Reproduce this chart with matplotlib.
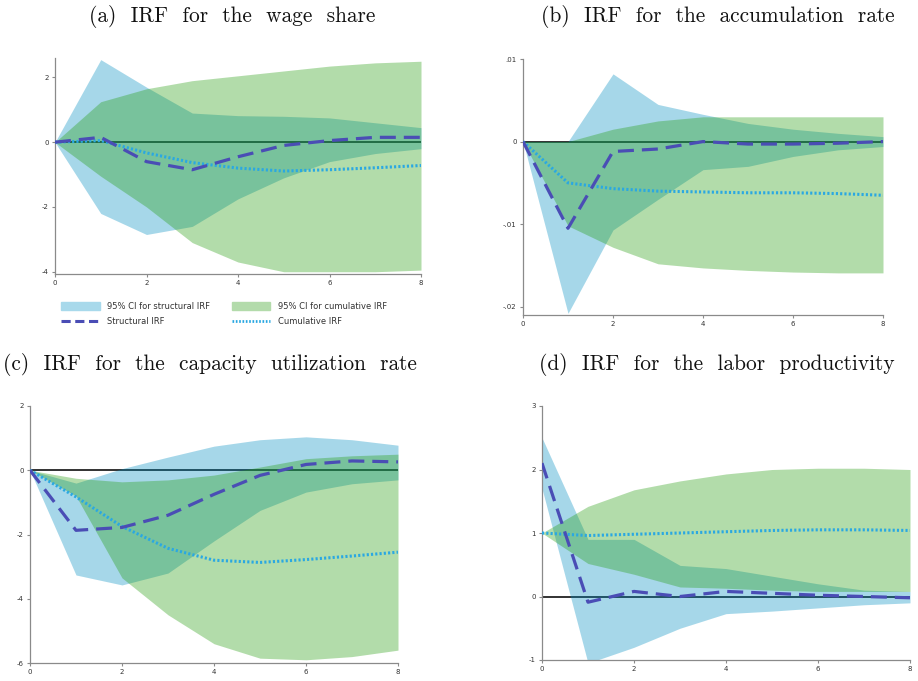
import matplotlib.pyplot as plt
from matplotlib.patches import Patch
from matplotlib.lines import Line2D
import numpy as np

steps = np.arange(9)

# (a) wage share
a_struct = [0, 0.15, -0.6, -0.85, -0.45, -0.1, 0.05, 0.15, 0.15]
a_cum = [0, 0.05, -0.33, -0.63, -0.8, -0.89, -0.85, -0.79, -0.72]
a_struct_lo = [0, -2.2, -2.85, -2.6, -1.75, -1.1, -0.6, -0.35, -0.2]
a_struct_hi = [0, 2.55, 1.7, 0.9, 0.82, 0.8, 0.75, 0.6, 0.45]
a_cum_lo = [0, -1.05, -2.0, -3.1, -3.7, -4.0, -4.0, -4.0, -3.95]
a_cum_hi = [0, 1.25, 1.65, 1.9, 2.05, 2.2, 2.35, 2.45, 2.5]

# (b) accumulation rate
b_struct = [0, -0.0105, -0.0012, -0.0009, 0, -0.0003, -0.0003, -0.0002, 0]
b_cum = [0, -0.005, -0.0057, -0.006, -0.0061, -0.0062, -0.0062, -0.0063, -0.0065]
b_struct_lo = [0, -0.0208, -0.0107, -0.007, -0.0034, -0.003, -0.0018, -0.001, -0.0006]
b_struct_hi = [0, 0, 0.0082, 0.0045, 0.0033, 0.0022, 0.0015, 0.001, 0.0006]
b_cum_lo = [0, -0.0102, -0.0128, -0.0148, -0.0153, -0.0156, -0.0158, -0.0159, -0.0159]
b_cum_hi = [0, 0, 0.0015, 0.0025, 0.003, 0.003, 0.003, 0.003, 0.003]

# (c) capacity utilization rate
c_struct = [0, -1.87, -1.78, -1.4, -0.75, -0.16, 0.18, 0.29, 0.26]
c_cum = [0, -0.83, -1.75, -2.43, -2.8, -2.87, -2.78, -2.67, -2.55]
c_struct_lo = [0, -3.26, -3.57, -3.2, -2.2, -1.25, -0.68, -0.42, -0.3]
c_struct_hi = [0, -0.4, 0.05, 0.41, 0.75, 0.95, 1.04, 0.95, 0.78]
c_cum_lo = [0, -0.8, -3.35, -4.5, -5.4, -5.85, -5.9, -5.8, -5.6]
c_cum_hi = [0, -0.25, -0.36, -0.3, -0.15, 0.1, 0.36, 0.45, 0.5]

# (d) labor productivity
d_struct = [2.1, -0.09, 0.08, 0.0, 0.08, 0.05, 0.02, 0.0, -0.02]
d_cum = [1.0, 0.96, 0.98, 1.0, 1.02, 1.04, 1.05, 1.05, 1.04]
d_struct_lo = [1.7, -1.05, -0.8, -0.5, -0.27, -0.23, -0.18, -0.13, -0.1]
d_struct_hi = [2.5, 0.9, 0.9, 0.49, 0.44, 0.32, 0.2, 0.1, 0.08]
d_cum_lo = [1.0, 0.52, 0.35, 0.15, 0.13, 0.1, 0.08, 0.08, 0.08]
d_cum_hi = [1.0, 1.42, 1.68, 1.82, 1.93, 2.0, 2.02, 2.02, 2.0]

titles = ["(a)  IRF  for  the  wage  share",
          "(b)  IRF  for  the  accumulation  rate",
          "(c)  IRF  for  the  capacity  utilization  rate",
          "(d)  IRF  for  the  labor  productivity"]

blue_ci = (0.0, 0.56, 0.76, 0.35)
green_ci = (0.14, 0.61, 0.05, 0.35)
struct_col = "#4a4db5"
cum_col = "#2aa8e2"

fig = plt.figure(figsize=(9.18, 6.81), dpi=100)

# axes rectangles in pixels: left, right, top, bottom
boxes = [(55, 421, 58, 274), (523, 883, 59, 315),
         (30, 398, 406, 663), (542, 910, 406, 660)]
ylims = [(-4.07, 2.6), (-0.021, 0.01), (-6, 2), (-1, 3)]
yticks = [[-4, -2, 0, 2], [-0.02, -0.01, 0, 0.01], [-6, -4, -2, 0, 2], [-1, 0, 1, 2, 3]]
ytlabels = [["-4", "-2", "0", "2"], ["-.02", "-.01", "0", ".01"],
            ["-6", "-4", "-2", "0", "2"], ["-1", "0", "1", "2", "3"]]
title_pos = [(232, 17), (718, 16), (210, 365), (717, 365)]

panels = [
    (a_struct, a_cum, a_struct_lo, a_struct_hi, a_cum_lo, a_cum_hi),
    (b_struct, b_cum, b_struct_lo, b_struct_hi, b_cum_lo, b_cum_hi),
    (c_struct, c_cum, c_struct_lo, c_struct_hi, c_cum_lo, c_cum_hi),
    (d_struct, d_cum, d_struct_lo, d_struct_hi, d_cum_lo, d_cum_hi),
]

W, H = 918, 681
for i, (st, cu, slo, shi, clo, chi) in enumerate(panels):
    l, r, t, b = boxes[i]
    ax = fig.add_axes([l / W, 1 - b / H, (r - l) / W, (b - t) / H])
    ax.axhline(0, color="#222222", lw=1.3, zorder=1)
    ax.fill_between(steps, slo, shi, color=blue_ci, lw=0, zorder=2)
    ax.fill_between(steps, clo, chi, color=green_ci, lw=0, zorder=3)
    ax.plot(steps, st, color=struct_col, lw=2.3, dashes=(5, 2.5), zorder=5)
    ax.plot(steps, cu, color=cum_col, lw=2.2, dashes=(0.7, 0.7), zorder=4)
    ax.set_xlim(0, 8)
    ax.set_ylim(*ylims[i])
    ax.set_xticks([0, 2, 4, 6, 8])
    ax.set_yticks(yticks[i])
    ax.set_yticklabels(ytlabels[i])
    for s in ["top", "right"]:
        ax.spines[s].set_visible(False)
    for s in ["left", "bottom"]:
        ax.spines[s].set_color("#8a8a8a")
        ax.spines[s].set_linewidth(0.9)
    ax.tick_params(labelsize=5, colors="#8a8a8a", labelcolor="#333333",
                   length=2.5, width=0.8, pad=2)
    ax.patch.set_alpha(0)
    tx, ty = title_pos[i]
    fig.text(tx / W, 1 - ty / H, titles[i], ha="center", va="center",
             fontsize=15.4, family="cmr10", color="#111111")

    if i == 0:
        handles = [Patch(color=(0.66, 0.85, 0.92)),
                   Line2D([], [], color=struct_col, lw=2.2, dashes=(3, 1.5)),
                   Patch(color=(0.70, 0.86, 0.67)),
                   Line2D([], [], color=cum_col, lw=2.0, dashes=(0.6, 0.6))]
        labels = ["95% CI for structural IRF", "Structural IRF",
                  "95% CI for cumulative IRF", "Cumulative IRF"]
        ax.legend(handles, labels, ncol=2, loc="upper left",
                  bbox_to_anchor=(-0.003, -0.095), frameon=False,
                  fontsize=6, handlelength=4.6, handleheight=1.1,
                  columnspacing=2.6, labelspacing=0.75, handletextpad=0.9,
                  labelcolor="#333333")

fig.savefig("out.png", dpi=100)
